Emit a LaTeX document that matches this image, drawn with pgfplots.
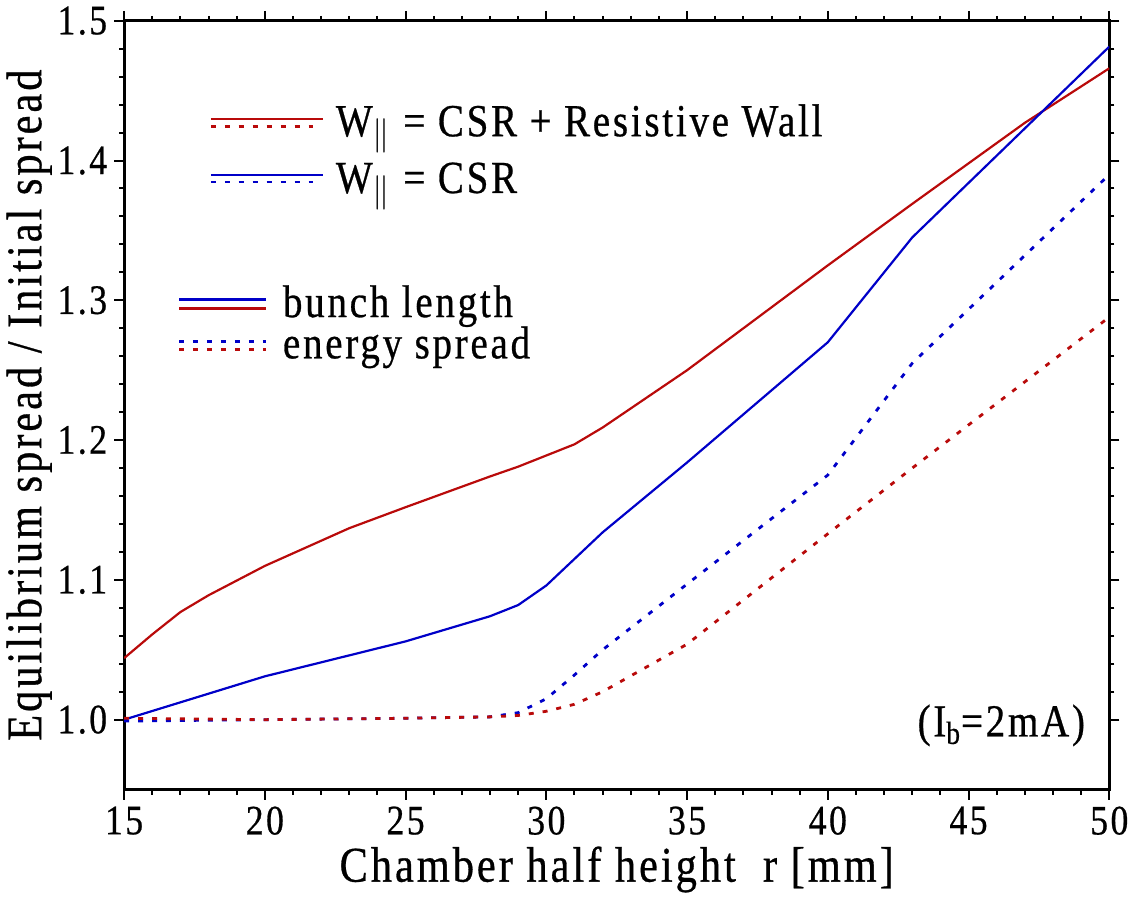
\documentclass[border=0pt]{standalone}
\usepackage{fontspec}
\setmainfont{Liberation Serif}[FakeStretch=0.85, LetterSpace=6, FakeBold=0.6]
\usepackage{pgfplots}
\pgfplotsset{compat=1.18}

\definecolor{rwred}{RGB}{185,10,10}
\definecolor{csrblue}{RGB}{0,0,200}

\tikzset{
  dotline/.style={line width=1.4pt, dash pattern=on 2.5pt off 4.5pt},
  solidline/.style={line width=1.1pt}
}

\begin{document}
\begin{tikzpicture}
\begin{axis}[
  width=494pt, height=385.5pt, scale only axis,
  xmin=15, xmax=50, ymin=0.95, ymax=1.5,
  xtick={15,20,25,30,35,40,45,50},
  ytick={1,1.1,1.2,1.3,1.4,1.5},
  minor x tick num=4, minor y tick num=4,
  tick align=outside,
  major tick length=5pt, minor tick length=2.5pt,
  axis line style={line width=1.4pt},
  every tick/.style={black, line width=1pt},
  /pgf/number format/assume math mode=true,
  yticklabel style={/pgf/number format/fixed,
    /pgf/number format/fixed zerofill,
    /pgf/number format/precision=1},
  ticklabel style={font=\fontsize{21}{24}\selectfont},
  xlabel={Chamber half height\ \ r [mm]},
  ylabel={Equilibrium spread / Initial spread},
  label style={font=\fontsize{25}{29}\selectfont},
  xlabel style={yshift=1pt},
  ylabel style={yshift=-4pt},
  clip=true,
]
% CSR + resistive wall, bunch length
\addplot[rwred, solidline] coordinates {
  (15,1.044) (16,1.061) (17,1.077) (18,1.089) (20,1.110) (23,1.137)
  (25,1.152) (28,1.174) (29,1.181) (30,1.189) (31,1.197) (32,1.209)
  (35,1.250) (40,1.325) (43,1.369) (45,1.398) (47,1.427) (50,1.466)
};
% CSR only, bunch length
\addplot[csrblue, solidline] coordinates {
  (15,1.000) (20,1.031) (25,1.056) (28,1.074) (29,1.082) (30,1.096)
  (31,1.115) (32,1.134) (35,1.184) (40,1.270) (43,1.345) (50,1.4815)
};
% CSR only, energy spread
\addplot[csrblue, dotline] coordinates {
  (15,0.999) (20,1.000) (25,1.001) (28,1.002) (29,1.005) (30,1.015)
  (31,1.032) (32,1.050) (35,1.097) (40,1.175) (43,1.255) (50,1.390)
};
% CSR + resistive wall, energy spread
\addplot[rwred, dotline] coordinates {
  (15,1.001) (20,1.000) (25,1.001) (28,1.002) (29,1.003) (30,1.006)
  (31,1.011) (32,1.020) (35,1.054) (40,1.133) (43,1.180) (50,1.288)
};

% wake model key
\draw[rwred, solidline] (axis cs:18.08,1.430) -- (axis cs:22.05,1.430);
\draw[rwred, dotline]   (axis cs:18.08,1.4245) -- (axis cs:21.7,1.4245);
\node[anchor=base west, inner sep=0pt, font=\fontsize{23}{27}\selectfont]
  at (axis cs:22.51,1.4174) {W$_{\|}$ = CSR + Resistive Wall};
\draw[csrblue, solidline] (axis cs:18.08,1.3896) -- (axis cs:22.05,1.3896);
\draw[csrblue, dotline]   (axis cs:18.08,1.3846) -- (axis cs:21.7,1.3846);
\node[anchor=base west, inner sep=0pt, font=\fontsize{23}{27}\selectfont]
  at (axis cs:22.51,1.3768) {W$_{\|}$ = CSR};

% quantity key
\draw[csrblue, solidline] (axis cs:16.95,1.3006) -- (axis cs:20.03,1.3006);
\draw[rwred, solidline]   (axis cs:16.95,1.2942) -- (axis cs:20.03,1.2942);
\node[anchor=base west, inner sep=0pt, font=\fontsize{23}{27}\selectfont]
  at (axis cs:20.63,1.288) {bunch length};
\draw[csrblue, dotline] (axis cs:16.95,1.2707) -- (axis cs:20.03,1.2707);
\draw[rwred, dotline]   (axis cs:16.95,1.2650) -- (axis cs:20.03,1.2650);
\node[anchor=base west, inner sep=0pt, font=\fontsize{23}{27}\selectfont]
  at (axis cs:20.63,1.2585) {energy spread};

\node[anchor=base east, inner sep=0pt, font=\fontsize{23}{27}\selectfont]
  at (axis cs:49.15,0.988) {(I\textsubscript{b}=2mA)};
\end{axis}
\end{tikzpicture}
\end{document}
